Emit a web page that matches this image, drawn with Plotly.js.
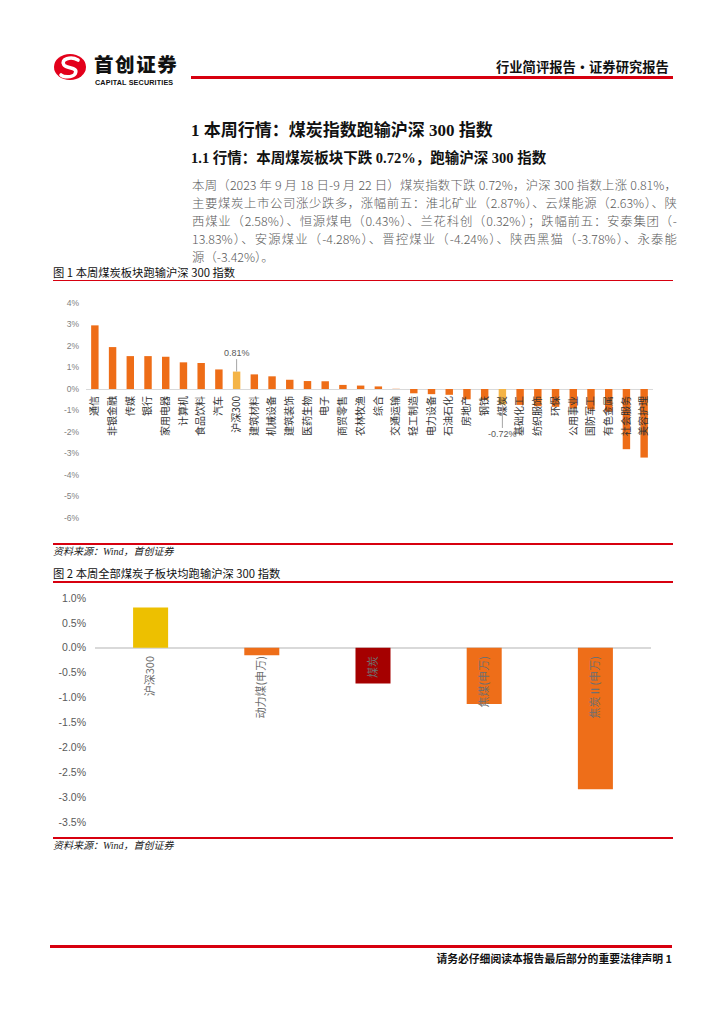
<!DOCTYPE html>
<html><head><meta charset="utf-8">
<script src="https://cdn.plot.ly/plotly-3.0.1.min.js"></script>
<style>
body{margin:0;background:#fff;width:724px;height:1024px;position:relative;overflow:hidden;font-family:"Noto Sans CJK SC","Noto Sans",sans-serif;}
.abs{position:absolute;white-space:nowrap;}
.red{position:absolute;background:#D7000F;}
.para{position:absolute;left:192px;width:485px;font-size:12.4px;color:#5a5a5a;line-height:18px;text-align:justify;text-align-last:justify;white-space:nowrap;font-weight:300;}
.cap{position:absolute;left:53px;font-size:11.3px;color:#111;line-height:14px;}
.src{position:absolute;left:53px;font-size:10px;color:#222;font-style:italic;line-height:12px;font-family:"Liberation Serif","Noto Sans CJK SC",serif;}
</style></head><body>

<!-- header -->
<svg class="abs" style="left:53px;top:53px" width="34" height="28" viewBox="0 0 34 28">
  <ellipse cx="17" cy="14" rx="16" ry="13" fill="#E3001B"/>
  <path d="M25 7 C 18 3, 7 6, 11 12 C 14 16, 26 14, 22 21 C 19 25, 10 24, 8 22" fill="none" stroke="#fff" stroke-width="3.6" stroke-linecap="round"/>
</svg>
<div class="abs" style="left:94px;top:54px;font-size:19.5px;font-weight:900;color:#111;line-height:20px;letter-spacing:1.6px">首创证券</div>
<div class="abs" style="left:95px;top:79px;font-size:7.2px;font-weight:700;color:#111;line-height:8px;letter-spacing:0.15px;font-family:'Liberation Sans',sans-serif">CAPITAL SECURITIES</div>
<div class="abs" style="left:496px;top:58px;font-size:13.3px;font-weight:700;color:#111;line-height:17px">行业简评报告·证券研究报告</div>
<div class="red" style="left:191px;top:76px;width:482px;height:3px"></div>

<!-- headings -->
<div class="abs" style="left:191px;top:120px;font-size:17px;font-weight:700;color:#111;line-height:22px;font-family:'Liberation Serif','Noto Sans CJK SC',serif">1 本周行情：煤炭指数跑输沪深 300 指数</div>
<div class="abs" style="left:191px;top:149px;font-size:14.5px;font-weight:700;color:#111;line-height:19px;font-family:'Liberation Serif','Noto Sans CJK SC',serif">1.1 行情：本周煤炭板块下跌 0.72%，跑输沪深 300 指数</div>

<div class="para" style="top:176px">本周（2023 年 9 月 18 日-9 月 22 日）煤炭指数下跌 0.72%，沪深 300 指数上涨 0.81%，</div>
<div class="para" style="top:194px">主要煤炭上市公司涨少跌多，涨幅前五：淮北矿业（2.87%）、云煤能源（2.63%）、陕</div>
<div class="para" style="top:212px">西煤业（2.58%）、恒源煤电（0.43%）、兰花科创（0.32%）；跌幅前五：安泰集团（-</div>
<div class="para" style="top:230px">13.83%）、安源煤业（-4.28%）、晋控煤业（-4.24%）、陕西黑猫（-3.78%）、永泰能</div>
<div class="para" style="top:248px;text-align-last:left">源（-3.42%）。</div>

<!-- figure 1 -->
<div class="cap" style="top:265px">图 1 本周煤炭板块跑输沪深 300 指数</div>
<div class="red" style="left:53px;top:280px;width:620px;height:1px"></div>
<div id="chart1" class="abs" style="left:40px;top:290px;width:640px;height:250px"></div>
<div class="red" style="left:53px;top:543px;width:620px;height:1.5px"></div>
<div class="src" style="top:546px">资料来源：Wind，首创证券</div>

<!-- figure 2 -->
<div class="cap" style="top:566px">图 2 本周全部煤炭子板块均跑输沪深 300 指数</div>
<div class="red" style="left:53px;top:581px;width:620px;height:1.5px"></div>
<div id="chart2" class="abs" style="left:40px;top:588px;width:640px;height:245px"></div>
<div class="red" style="left:53px;top:837px;width:620px;height:1.5px"></div>
<div class="src" style="top:840px">资料来源：Wind，首创证券</div>

<!-- footer -->
<div class="red" style="left:50px;top:945px;width:622px;height:3px"></div>
<div class="abs" style="right:52px;top:951px;font-size:10.8px;font-weight:700;color:#111;line-height:14px">请务必仔细阅读本报告最后部分的重要法律声明 1</div>

<script>
// ---- Figure 1 data ----
const sectors = ['通信','非银金融','传媒','银行','家用电器','计算机','食品饮料','汽车','沪深300','建筑材料','机械设备','建筑装饰','医药生物','电子','商贸零售','农林牧渔','综合','交通运输','轻工制造','电力设备','石油石化','房地产','钢铁','煤炭','基础化工','纺织服饰','环保','公用事业','国防军工','有色金属','社会服务','美容护理'];
const sectorChange = [2.96,1.95,1.53,1.53,1.50,1.24,1.21,0.91,0.81,0.68,0.59,0.43,0.37,0.36,0.19,0.16,0.12,0.01,-0.20,-0.24,-0.27,-0.48,-0.50,-0.72,-0.74,-0.80,-0.83,-0.90,-0.95,-1.05,-2.80,-3.19];
const highlight1 = ['沪深300','煤炭'];
const yTicks1 = [4,3,2,1,0,-1,-2,-3,-4,-5,-6];
const yTickText1 = ['4%','3%','2%','1%','0%','-1%','-2%','-3%','-4%','-5%','-6%'];

// ---- Figure 2 data ----
const coalSubs = ['沪深300','动力煤(申万)','煤炭','焦煤(申万)','焦炭Ⅱ(申万)'];
const coalChange = [0.81,-0.15,-0.72,-1.13,-2.84];
const coalColors = ['#EDC000','#EE6E19','#A50000','#EE6E19','#EE6E19'];
const yTicks2 = [1.0,0.5,0,-0.5,-1.0,-1.5,-2.0,-2.5,-3.0,-3.5];
const yTickText2 = ['1.0%','0.5%','0.0%','-0.5%','-1.0%','-1.5%','-2.0%','-2.5%','-3.0%','-3.5%'];

const FONT = '"Liberation Sans","Noto Sans CJK SC",sans-serif';
const cfg = {staticPlot:true, displayModeBar:false};

// chart 1
const yr1 = [-6,4];
Plotly.newPlot('chart1', [{
  type:'bar', x:sectors, y:sectorChange,
  marker:{color: sectors.map(s => highlight1.includes(s) ? '#F4B447' : '#EE6D17'), line:{width:0}},
  hoverinfo:'none'
}], {
  width:640, height:250,
  margin:{l:46,r:27,t:13,b:22},
  paper_bgcolor:'#fff', plot_bgcolor:'#fff',
  bargap:0.58, showlegend:false,
  font:{family:FONT, size:9, color:'#595959'},
  yaxis:{range:yr1, tickvals:yTicks1, ticktext:yTickText1, showgrid:false, zeroline:true, zerolinecolor:'#D9D9D9', zerolinewidth:1, showline:false, ticks:'', ticklabelstandoff:6, tickfont:{size:8.5,color:'#7f7f7f'}},
  xaxis:{anchor:'free', position:(0-yr1[0])/(yr1[1]-yr1[0]), showline:false, showgrid:false, ticks:'', tickangle:-90, ticklabelstandoff:4, tickfont:{size:10,color:'#333', family:'"Noto Sans CJK SC",sans-serif'}},
  annotations:[
    {x:'沪深300', y:sectorChange[sectors.indexOf('沪深300')], text:'0.81%', showarrow:true, arrowhead:0, arrowwidth:1, arrowcolor:'#A6A6A6', ax:0, ay:-19, standoff:0, font:{size:9,color:'#595959'}},
    {x:'煤炭', y:sectorChange[sectors.indexOf('煤炭')], text:'-0.72%', showarrow:true, arrowhead:0, arrowwidth:1, arrowcolor:'#A6A6A6', ax:0, ay:30, standoff:0, font:{size:9,color:'#595959'}}
  ]
}, cfg);

// chart 2
const yr2 = [-3.5,1.0];
Plotly.newPlot('chart2', [{
  type:'bar', x:coalSubs, y:coalChange,
  marker:{color:coalColors, line:{width:0}},
  hoverinfo:'none'
}], {
  width:640, height:245,
  margin:{l:55,r:29,t:10,b:11},
  paper_bgcolor:'#fff', plot_bgcolor:'#fff',
  bargap:0.685, showlegend:false,
  font:{family:FONT, size:10, color:'#595959'},
  yaxis:{range:yr2, tickvals:yTicks2, ticktext:yTickText2, showgrid:false, zeroline:true, zerolinecolor:'#D9D9D9', zerolinewidth:1.5, showline:false, ticks:'', ticklabelstandoff:8, tickfont:{size:10.5,color:'#595959'}},
  xaxis:{anchor:'free', position:(0-yr2[0])/(yr2[1]-yr2[0]), showline:false, showgrid:false, ticks:'', tickangle:-90, ticklabelstandoff:5, tickfont:{size:11,color:'#6f6f6f', family:'"Noto Sans CJK SC",sans-serif'}}
}, cfg);
</script>
</body></html>
